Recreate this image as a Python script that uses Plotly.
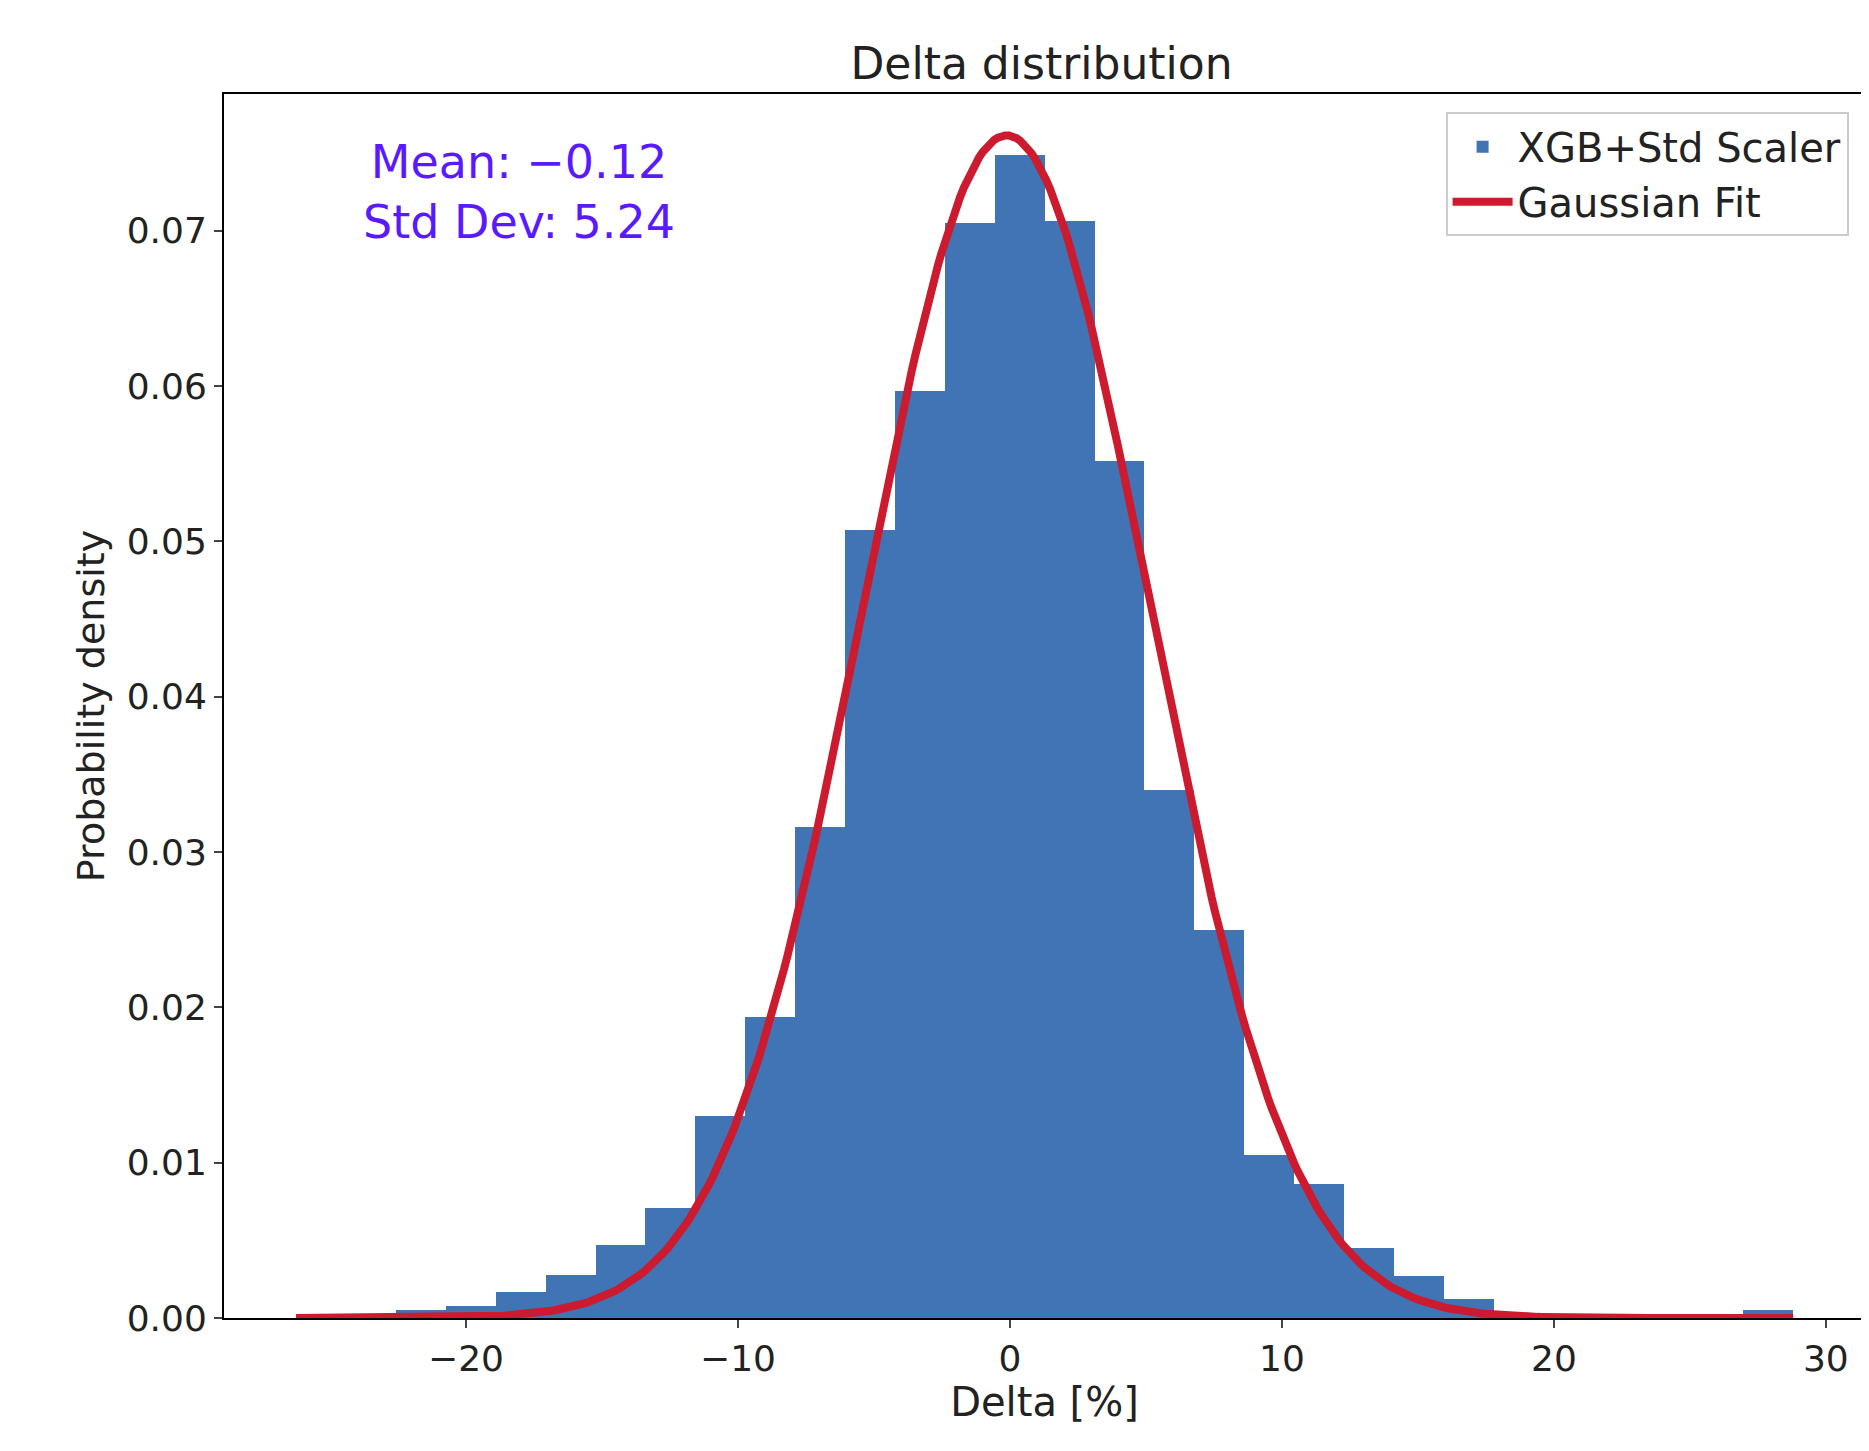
import numpy as np
import plotly.graph_objects as go

bin_start = -26.25
bin_width = 1.835
densities = [0, 0, 0.0005, 0.0008, 0.0017, 0.0028, 0.0047, 0.0071, 0.0130, 0.0194,
             0.0316, 0.0507, 0.0597, 0.0705, 0.0749, 0.0706, 0.0552, 0.0340, 0.0250, 0.0105,
             0.0086, 0.0045, 0.0027, 0.0012, 0, 0, 0, 0, 0, 0.0005]
mean, std = -0.12, 5.24
x_min, x_max = -26.25, 28.8

centers = [bin_start + bin_width * (i + 0.5) for i in range(len(densities))]
xs = np.linspace(x_min, x_max, 400)
ys = np.exp(-0.5 * ((xs - mean) / std) ** 2) / (std * np.sqrt(2 * np.pi))

fig = go.Figure()
fig.add_trace(go.Bar(x=centers, y=densities, width=bin_width, marker=dict(color="#4174b4", line=dict(width=0)),
                     name="XGB+Std Scaler"))
fig.add_trace(go.Scatter(x=xs, y=ys, mode="lines", line=dict(color="#cc1a2e", width=8), name="Gaussian Fit"))

font = "DejaVu Sans"
fig.update_layout(
    width=1869, height=1451, plot_bgcolor="white", paper_bgcolor="white",
    margin=dict(l=216, r=10, t=86, b=141),
    bargap=0,
    font=dict(family=font, size=36, color="#222"),
    title=dict(text="Delta distribution", x=0.553, xanchor="center", y=0.972, font=dict(size=44)),
    showlegend=True,
    legend=dict(x=0.99, y=0.985, xanchor="right", yanchor="top", bordercolor="#ccc", borderwidth=2,
                font=dict(size=40), bgcolor="white", itemwidth=60),
    annotations=[dict(text="Mean: \u22120.12<br>Std Dev: 5.24", xref="paper", yref="paper",
                      x=0.18, y=0.92, xanchor="center", yanchor="middle", showarrow=False,
                      font=dict(size=46, color="#5a1aff"))],
)
fig.update_xaxes(range=[-28.9, 31.44], tickvals=[-20, -10, 0, 10, 20, 30],
                 ticktext=["\u221220", "\u221210", "0", "10", "20", "30"],
                 ticks="outside", ticklen=8, tickwidth=2, showgrid=False, zeroline=False,
                 showline=True, linecolor="black", linewidth=2, mirror=True,
                 title=dict(text="Delta [%]", font=dict(size=40), standoff=10))
fig.update_yaxes(range=[0, 0.0788], tickvals=[0, 0.01, 0.02, 0.03, 0.04, 0.05, 0.06, 0.07],
                 tickformat=".2f", ticks="outside", ticklen=8, tickwidth=2, showgrid=False, zeroline=False,
                 showline=True, linecolor="black", linewidth=2, mirror=True,
                 title=dict(text="Probability density", font=dict(size=38), standoff=10))
fig.write_html("out.html")
